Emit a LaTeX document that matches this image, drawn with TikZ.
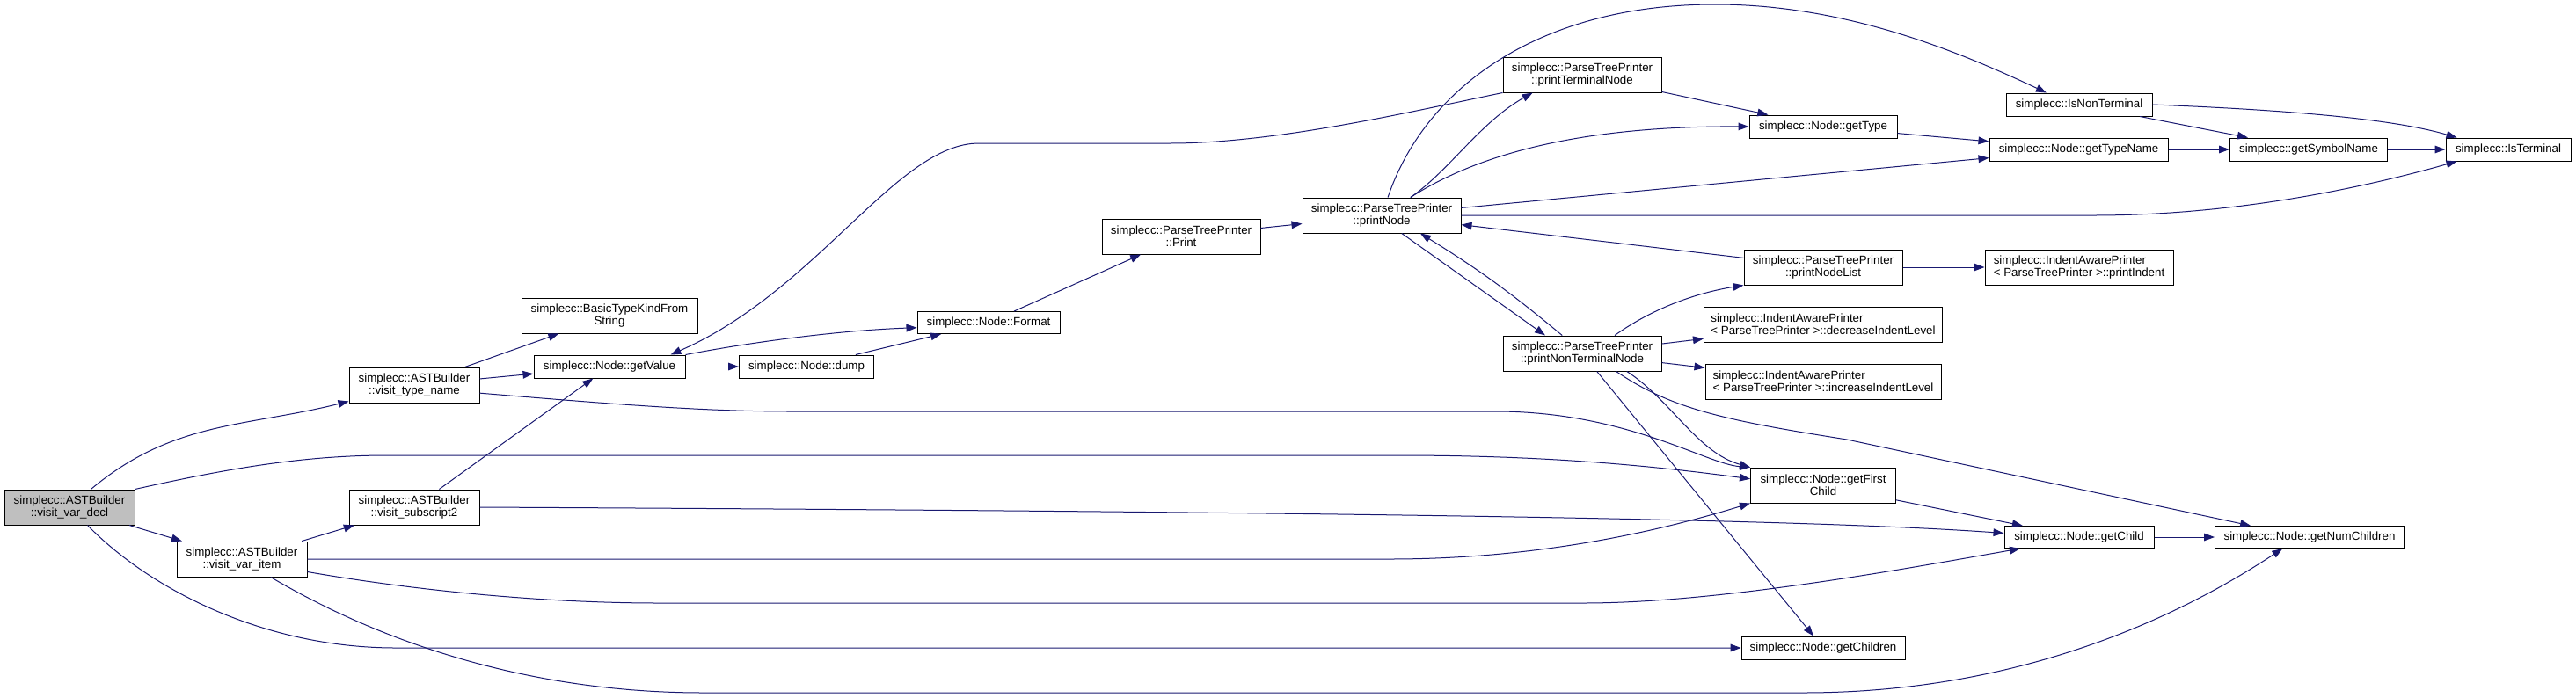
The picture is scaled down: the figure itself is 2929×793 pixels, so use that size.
\documentclass[tikz,border=0pt]{standalone}
\usepackage{fontspec}
\setmainfont{Liberation Sans}
\usetikzlibrary{arrows.meta}
\definecolor{edgeblue}{HTML}{191970}
\definecolor{callergray}{HTML}{BFBFBF}

\begin{document}
\begin{tikzpicture}[x=0.75pt,y=0.75pt,font=\fontsize{10}{10.75}\selectfont,>={Triangle[length=9pt,width=6.5pt]}]
  \tikzset{fnbox/.style={draw=black,line width=0.75pt,inner sep=0pt,align=center,fill=white,minimum height=30pt},
    onebox/.style={fnbox,minimum height=19.5pt},
    call/.style={edgeblue,line width=0.75pt,->}}
  \useasboundingbox (0,0) rectangle (2929,-793);
  \node[fnbox,fill=callergray,minimum width=111pt] (vardecl) at (79,-577) {simplecc::ASTBuilder\\::visit\_var\_decl};
  \node[fnbox,minimum width=111pt] (typename) at (471,-438) {simplecc::ASTBuilder\\::visit\_type\_name};
  \node[fnbox,minimum width=111pt] (subscript) at (471,-577) {simplecc::ASTBuilder\\::visit\_subscript2};
  \node[fnbox,minimum width=111pt] (varitem) at (275,-636) {simplecc::ASTBuilder\\::visit\_var\_item};
  \node[fnbox,minimum width=150pt] (basictype) at (693,-359) {simplecc::BasicTypeKindFrom\\String};
  \node[onebox,minimum width=129pt] (getvalue) at (693,-417) {simplecc::Node::getValue};
  \node[onebox,minimum width=114.75pt] (dump) at (917,-417) {simplecc::Node::dump};
  \node[onebox,minimum width=121.5pt,minimum height=18.75pt] (format) at (1124,-367) {simplecc::Node::Format};
  \node[fnbox,minimum width=135pt] (print) at (1343,-269) {simplecc::ParseTreePrinter\\::Print};
  \node[fnbox,minimum width=135pt] (printnode) at (1571,-245) {simplecc::ParseTreePrinter\\::printNode};
  \node[fnbox,minimum width=135pt] (printterm) at (1799,-85) {simplecc::ParseTreePrinter\\::printTerminalNode};
  \node[onebox,minimum width=126pt] (gettype) at (2073,-144) {simplecc::Node::getType};
  \node[onebox,minimum width=124.5pt] (isnonterm) at (2364,-119) {simplecc::IsNonTerminal};
  \node[onebox,minimum width=152.25pt] (gettypename) at (2363.5,-170) {simplecc::Node::getTypeName};
  \node[onebox,minimum width=134.25pt] (getsymbol) at (2625,-170) {simplecc::getSymbolName};
  \node[onebox,minimum width=106.5pt] (isterm) at (2852,-170) {simplecc::IsTerminal};
  \node[fnbox,minimum width=135pt] (printnodelist) at (2073,-304) {simplecc::ParseTreePrinter\\::printNodeList};
  \node[fnbox,align=left,minimum width=160.5pt] (printindent) at (2364,-304) {simplecc::IndentAwarePrinter\\< ParseTreePrinter >::printIndent};
  \node[fnbox,minimum width=135pt] (printnonterm) at (1799,-402) {simplecc::ParseTreePrinter\\::printNonTerminalNode};
  \node[fnbox,align=left,minimum width=203.25pt] (decrease) at (2073,-369) {simplecc::IndentAwarePrinter\\< ParseTreePrinter >::decreaseIndentLevel};
  \node[fnbox,align=left,minimum width=201pt] (increase) at (2073,-434) {simplecc::IndentAwarePrinter\\< ParseTreePrinter >::increaseIndentLevel};
  \node[fnbox,minimum width=123.75pt] (getfirstchild) at (2073,-552) {simplecc::Node::getFirst\\Child};
  \node[onebox,minimum width=127.5pt,minimum height=18.75pt] (getchild) at (2364,-611) {simplecc::Node::getChild};
  \node[onebox,minimum width=161.25pt,minimum height=18.75pt] (getnumchildren) at (2626,-611) {simplecc::Node::getNumChildren};
  \node[onebox,minimum width=139.5pt] (getchildren) at (2073,-737) {simplecc::Node::getChildren};
  \draw[call] (vardecl) to[out=40,in=194] (typename);
  \draw[call] (vardecl) -- (varitem);
  \draw[call] (vardecl.north east) .. controls (250,-535) and (340,-518) .. (440,-518) -- (1590,-518) .. controls (1760,-518) and (1880,-530) .. (getfirstchild.175);
  \draw[call] (vardecl.-45) .. controls (170,-670) and (300,-737) .. (450,-737) -- (getchildren.west);
  \draw[call] (typename) -- (basictype);
  \draw[call] (typename) -- (getvalue);
  \draw[call] (typename.-7) .. controls (700,-460) and (800,-468) .. (900,-468) -- (1700,-468) .. controls (1850,-468) and (1940,-528) .. (getfirstchild.north west);
  \draw[call] (subscript) -- (getvalue);
  \draw[call] (subscript.east) .. controls (1500,-582) and (2050,-590) .. (getchild.177);
  \draw[call] (varitem) -- (subscript);
  \draw[call] (varitem.east) -- (1580,-636) .. controls (1760,-636) and (1900,-600) .. (getfirstchild.south west);
  \draw[call] (varitem.-11) .. controls (450,-668) and (600,-686) .. (750,-686) -- (1800,-686) .. controls (1950,-686) and (2150,-650) .. (getchild.191);
  \draw[call] (varitem.-32) .. controls (390,-705) and (560,-788) .. (800,-788) -- (2050,-788) .. controls (2300,-788) and (2480,-700) .. (getnumchildren.203);
  \draw[call] (getvalue) -- (dump);
  \draw[call] (getvalue.north east) .. controls (850,-390) and (950,-376) .. (format.184);
  \draw[call] (dump) -- (format);
  \draw[call] (format) -- (print);
  \draw[call] (print) -- (printnode);
  \draw[call] (printnode.32) .. controls (1648,-194) and (1683,-139) .. (printterm.200);
  \draw[call] (printnode.71) .. controls (1620,-100) and (1750,-5) .. (1950,-5) .. controls (2100,-5) and (2230,-60) .. (isnonterm.160);
  \draw[call] (printnode.32) .. controls (1670,-182) and (1780,-143) .. (gettype.west);
  \draw[call] (printnode) -- (gettypename);
  \draw[call] (printnode.east) -- (2380,-245) .. controls (2550,-245) and (2700,-210) .. (isterm.193);
  \draw[call] (printnode.-42) -- (printnonterm.154);
  \draw[call] (printterm.south west) .. controls (1600,-128) and (1450,-163) .. (1330,-163) -- (1113,-163) .. controls (1020,-163) and (930,-330) .. (getvalue.11);
  \draw[call] (printterm) -- (gettype);
  \draw[call] (gettype) -- (gettypename);
  \draw[call] (gettypename) -- (getsymbol);
  \draw[call] (getsymbol) -- (isterm);
  \draw[call] (isnonterm) -- (getsymbol);
  \draw[call] (isnonterm.east) .. controls (2600,-125) and (2720,-135) .. (isterm.167);
  \draw[call] (printnodelist) -- (printnode);
  \draw[call] (printnodelist) -- (printindent);
  \draw[call] (printnonterm.138) to[bend right=4] (printnode.-25.5);
  \draw[call] (printnonterm.29) .. controls (1880,-350) and (1930,-333) .. (printnodelist.south west);
  \draw[call] (printnonterm) -- (decrease);
  \draw[call] (printnonterm) -- (increase);
  \draw[call] (printnonterm.-22) .. controls (1900,-455) and (1930,-515) .. (getfirstchild.north west);
  \draw[call] (printnonterm) -- (getchildren);
  \draw[call] (printnonterm.-28) .. controls (1900,-465) and (1960,-478) .. (2100,-500) -- (getnumchildren.169);
  \draw[call] (getfirstchild) -- (getchild);
  \draw[call] (getchild) -- (getnumchildren);
\end{tikzpicture}
\end{document}
